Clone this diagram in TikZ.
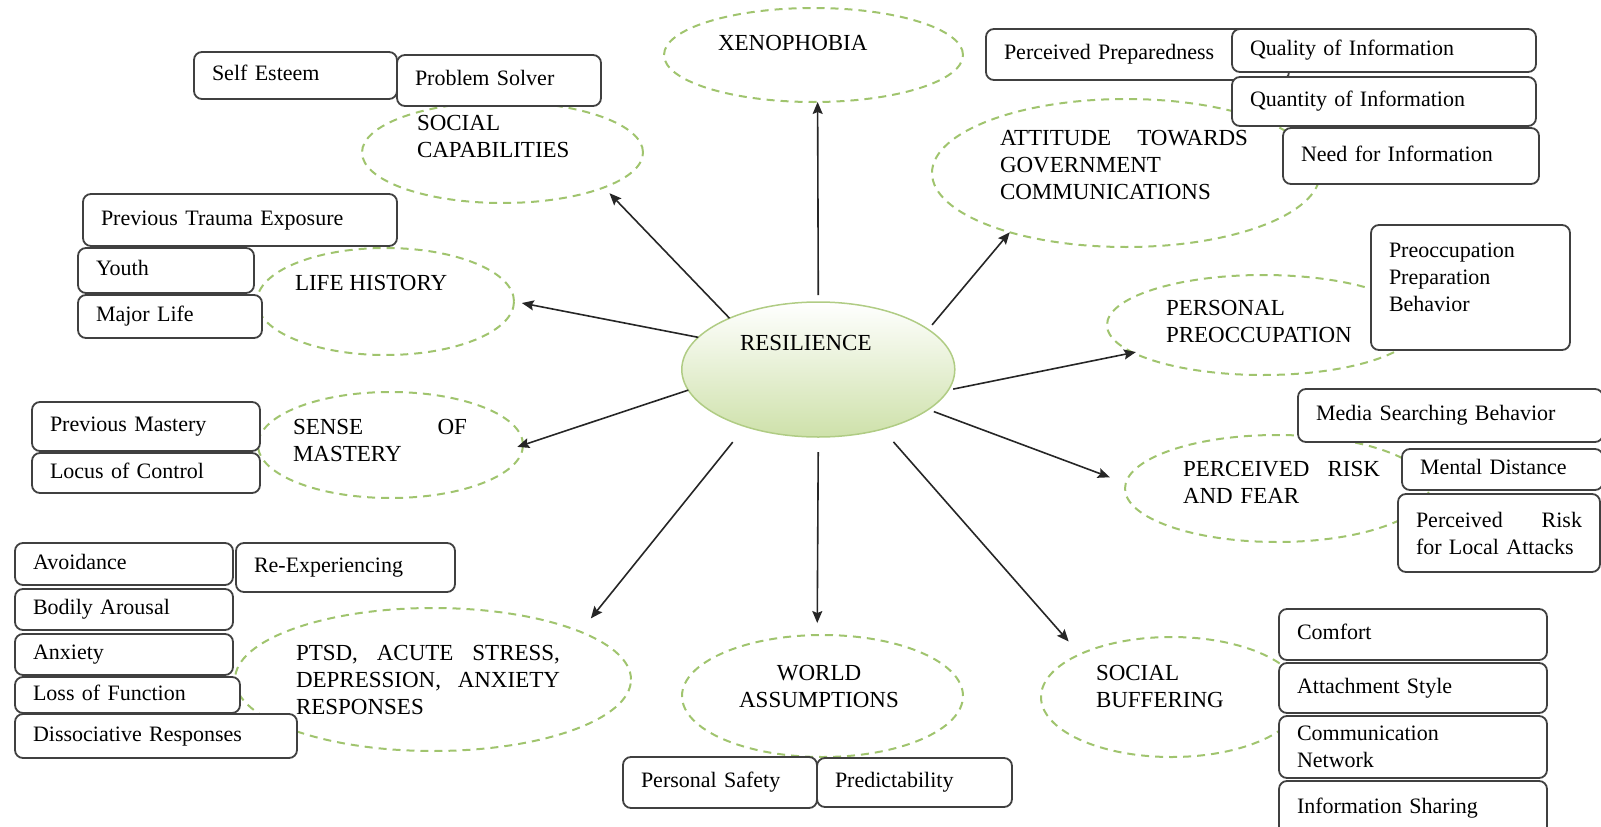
\documentclass[tikz,border=0pt]{standalone}
\usepackage{fontspec}
\setmainfont{Liberation Serif}
\usetikzlibrary{shapes.geometric, arrows.meta}
\definecolor{dashgreen}{RGB}{160,196,110}
\definecolor{coregreen}{RGB}{206,225,170}
\definecolor{coreline}{RGB}{176,204,132}
\definecolor{boxline}{RGB}{64,64,64}
\tikzset{
>={Stealth[length=12pt, width=10pt, inset=2pt]}, % filled arrow heads
core/.style={ellipse, draw=coreline, line width=1.5pt, top color=white, bottom color=coregreen, inner sep=0pt, outer sep=0pt}, % the central node
factor/.style={ellipse, draw=dashgreen, line width=2pt, dash pattern=on 8pt off 6pt, inner sep=0pt, outer sep=0pt}, % dashed ellipse round each factor
heading/.style={inner sep=0pt, outer sep=0pt, align=left, font=\fontsize{23}{27}\selectfont}, % text of a factor
facet/.style={rectangle, rounded corners=8pt, draw=boxline, line width=1.8pt, fill=white, anchor=north west, inner xsep=18pt, inner ysep=0pt, outer sep=0pt, align=left, font=\fontsize{22}{27}\selectfont}, % boxes next to the factors
onerow/.style={text height=15pt, text depth=5pt}, % one line of text in a box
link/.style={->, line width=1.6pt, color=black!85}, % arrows out of the centre
}

\begin{document}
\begin{tikzpicture}[x=1pt, y=-1pt]
                \useasboundingbox (0,0) rectangle (1601,827);

                % factors
                \node[factor, minimum width=299pt, minimum height=94pt] (xeno) at (813.5,55) {};
                \node[factor, minimum width=281pt, minimum height=101pt] (soc_cap) at (502.5,152.5) {};
                \node[factor, minimum width=388pt, minimum height=148pt] (att_gov) at (1126,173) {};
                \node[factor, minimum width=257pt, minimum height=107pt] (life_hist) at (385.5,301.5) {};
                \node[factor, minimum width=312pt, minimum height=100pt] (pers_pre) at (1263,325) {};
                \node[factor, minimum width=265pt, minimum height=106pt] (sense_mast) at (390.5,445) {};
                \node[factor, minimum width=304pt, minimum height=107pt] (risk_fear) at (1277,488.5) {};
                \node[factor, minimum width=396pt, minimum height=143pt] (ptsd) at (433,679.5) {};
                \node[factor, minimum width=281pt, minimum height=122pt] (world) at (822.5,696) {};
                \node[factor, minimum width=261pt, minimum height=120pt] (soc_buff) at (1171.5,697) {};

                % boxes
                \node[facet, onerow, text width=167pt, minimum height=47pt] (self_esteem) at (194,52) {Self Esteem};
                \node[facet, onerow, text width=168pt, minimum height=51pt] (prob_solver) at (397,55) {Problem Solver};

                \node[facet, onerow, text width=267pt, minimum height=51pt] (perc_prep) at (986,29) {Perceived Preparedness};
                \node[facet, onerow, text width=268pt, minimum height=43pt] (quality_info) at (1232,29) {Quality of Information};
                \node[facet, onerow, text width=268pt, minimum height=49pt] (quantity_info) at (1232,77) {Quantity of Information};
                \node[facet, onerow, text width=220pt, minimum height=56pt] (need_info) at (1283,128) {Need for Information};

                \node[facet, onerow, text width=278pt, minimum height=52pt] (prev_trauma) at (83,194) {Previous Trauma Exposure};
                \node[facet, onerow, text width=140pt, minimum height=45pt] (youth) at (78,248) {Youth};
                \node[facet, onerow, text width=148pt, minimum height=43pt] (major_life) at (78,295) {Major Life};

                \node[facet, text width=163pt, minimum height=125pt] (preocc) at (1371,225) {Preoccupation\\Preparation\\Behavior\\[-7pt]\mbox{}};

                \node[facet, onerow, text width=192pt, minimum height=49pt] (prev_mastery) at (32,402) {Previous Mastery};
                \node[facet, onerow, text width=192pt, minimum height=40pt] (locus) at (32,453) {Locus of Control};

                \node[facet, onerow, text width=269pt, minimum height=53pt] (media_search) at (1298,389) {Media Searching Behavior};
                \node[facet, onerow, text width=165pt, minimum height=41pt] (mental_dist) at (1402,449) {Mental Distance};
                \node[facet, text width=166pt, minimum height=78pt] (perc_risk) at (1398,494) {Perceived\hfill Risk\\for Local Attacks};

                \node[facet, onerow, text width=182pt, minimum height=42pt] (avoidance) at (15,543) {Avoidance};
                \node[facet, onerow, text width=183pt, minimum height=49pt] (re_exp) at (236,543) {Re-Experiencing};
                \node[facet, onerow, text width=182pt, minimum height=41pt] (bodily) at (15,589) {Bodily Arousal};
                \node[facet, onerow, text width=182pt, minimum height=41pt] (anxiety) at (15,634) {Anxiety};
                \node[facet, onerow, text width=189pt, minimum height=36pt] (loss_func) at (15,677) {Loss of Function};
                \node[facet, onerow, text width=246pt, minimum height=44pt] (dissoc) at (15,714) {Dissociative Responses};

                \node[facet, onerow, text width=158pt, minimum height=51pt] (pers_safety) at (623,757) {Personal Safety};
                \node[facet, onerow, text width=159pt, minimum height=49pt] (predict) at (817,758) {Predictability};

                \node[facet, onerow, text width=232pt, minimum height=51pt] (comfort) at (1279,609) {Comfort};
                \node[facet, onerow, text width=232pt, minimum height=50pt] (attach) at (1279,663) {Attachment Style};
                \node[facet, text width=232pt, minimum height=62pt] (comm_net) at (1279,716) {Communication\\Network};
                \node[facet, onerow, text width=232pt, minimum height=54pt] (info_share) at (1279,781) {Information Sharing};

                % centre
                \node[core, minimum width=273pt, minimum height=135pt] (res) at (818.3,369.5) {};

                % texts of the factors
                \node[heading, anchor=base west] (res_txt) at (740,350) {RESILIENCE};
                \node[heading, anchor=base west] (xeno_txt) at (718,50) {XENOPHOBIA};
                \node[heading, anchor=north west] (soc_cap_txt) at (417,115) {SOCIAL\\CAPABILITIES};
                \node[heading, anchor=north west, text width=248pt] (att_gov_txt) at (1000,130) {ATTITUDE\hfill TOWARDS\\GOVERNMENT\\COMMUNICATIONS};
                \node[heading, anchor=base west] (life_hist_txt) at (295,290) {LIFE HISTORY};
                \node[heading, anchor=north west] (pers_pre_txt) at (1166,300) {PERSONAL\\PREOCCUPATION};
                \node[heading, anchor=north west, text width=174pt] (sense_mast_txt) at (293,419) {SENSE\hfill OF\\MASTERY};
                \node[heading, anchor=north west, text width=197pt] (risk_fear_txt) at (1183,461) {PERCEIVED\hfill RISK\\AND FEAR};
                \node[heading, anchor=north west, text width=264pt] (ptsd_txt) at (296,645) {PTSD,\hfill ACUTE\hfill STRESS,\\DEPRESSION,\hfill ANXIETY\\RESPONSES};
                \node[heading, anchor=north, align=center] (world_txt) at (819,665) {WORLD\\ASSUMPTIONS};
                \node[heading, anchor=north west] (soc_buff_txt) at (1096,665) {SOCIAL\\BUFFERING};

                \path[link]
                    (res.90) edge[shorten <=7pt] (xeno.-85)
                    (res.150) edge[shorten >=8pt] (soc_cap.-19)
                    (res.20) edge[shorten <=6pt] (att_gov.-153)
                    (res.165) edge[shorten >=8pt] (life_hist.0)
                    (res.-9) edge[shorten <=5pt, shorten >=-3pt] (pers_pre.-168)
                    (res.-171) edge[shorten >=-6pt] (sense_mast.0)
                    (res.-20) edge[shorten <=6pt, shorten >=17pt] (risk_fear.178)
                    (res.-142) edge[shorten <=20pt, shorten >=17pt] (ptsd.18)
                    (res.-90) edge[shorten <=15pt, shorten >=12pt] (world.95)
                    (res.-43) edge[shorten <=17pt, shorten >=17pt] (soc_buff.155);
\end{tikzpicture}
\end{document}
